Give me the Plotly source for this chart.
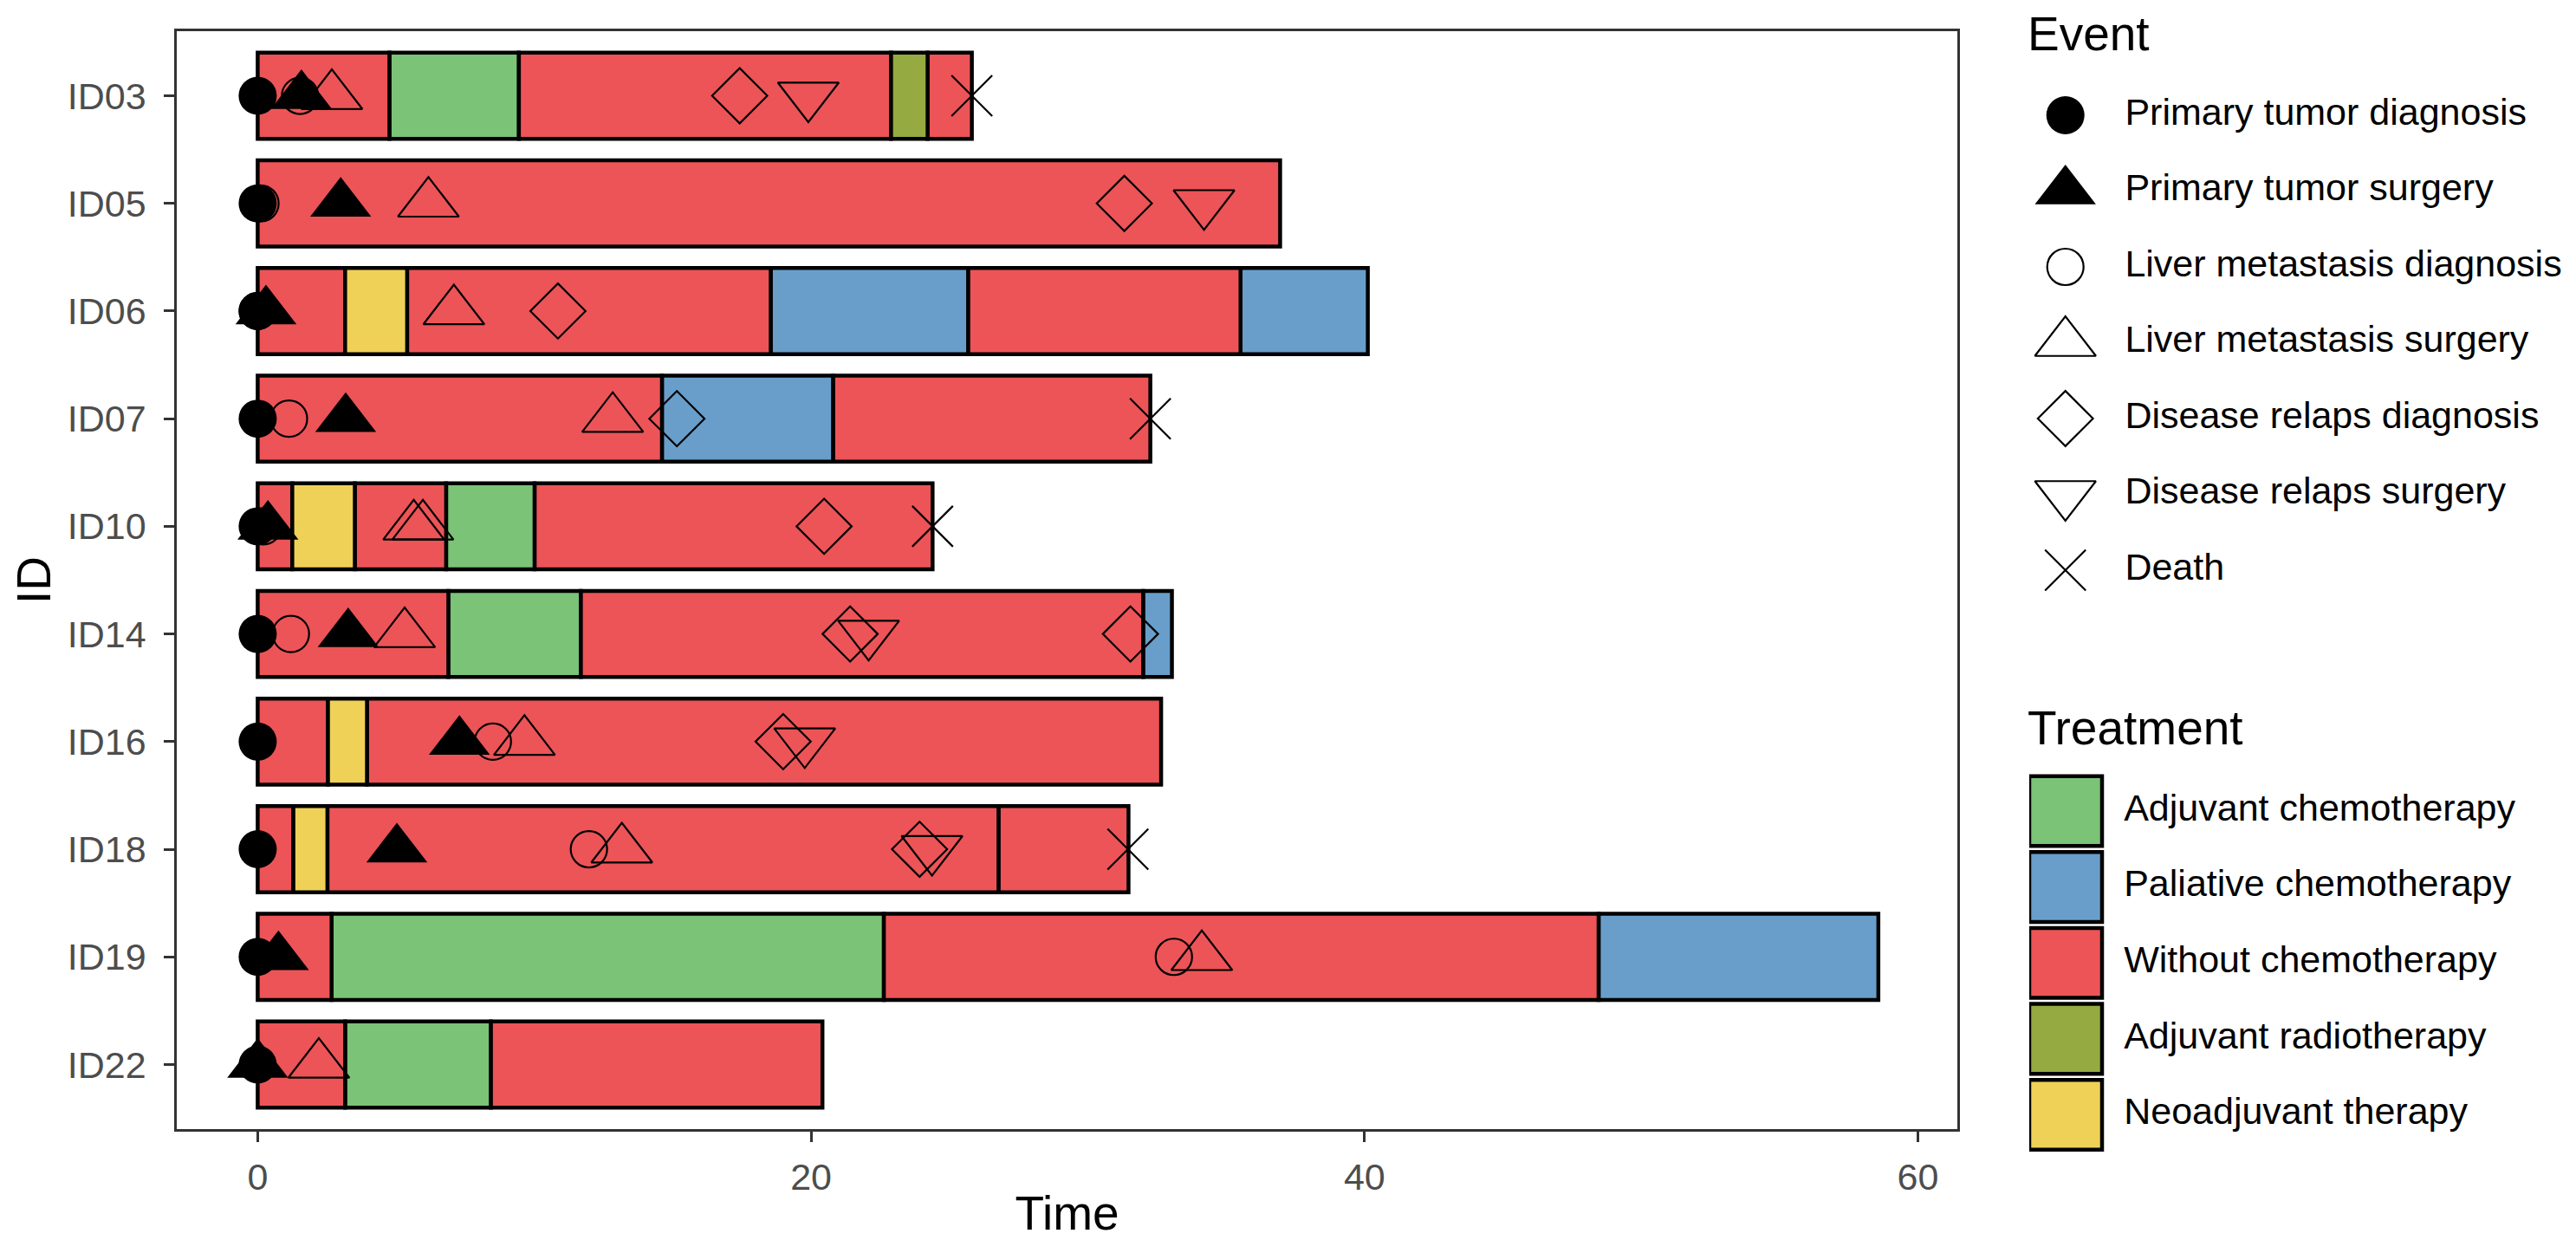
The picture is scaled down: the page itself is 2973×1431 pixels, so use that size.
import plotly.graph_objects as go

# ---------------- data ----------------
ids = ["ID03", "ID05", "ID06", "ID07", "ID10", "ID14", "ID16", "ID18", "ID19", "ID22"]

treatments = ["Adjuvant chemotherapy", "Paliative chemotherapy", "Without chemotherapy",
              "Adjuvant radiotherapy", "Neoadjuvant therapy"]
treatment_colors = ["#7AC377", "#699ECA", "#EC5457", "#95AA41", "#EFD157"]

events = ["Primary tumor diagnosis", "Primary tumor surgery", "Liver metastasis diagnosis",
          "Liver metastasis surgery", "Disease relaps diagnosis", "Disease relaps surgery", "Death"]

# treatment segments (one row per segment)
seg_id = ["ID03", "ID03", "ID03", "ID03", "ID03",
          "ID05",
          "ID06", "ID06", "ID06", "ID06", "ID06", "ID06",
          "ID07", "ID07", "ID07",
          "ID10", "ID10", "ID10", "ID10", "ID10",
          "ID14", "ID14", "ID14", "ID14",
          "ID16", "ID16", "ID16",
          "ID18", "ID18", "ID18", "ID18",
          "ID19", "ID19", "ID19", "ID19",
          "ID22", "ID22", "ID22"]
seg_start = [0, 4.76, 9.44, 22.89, 24.21,
             0,
             0, 3.16, 5.40, 18.54, 25.68, 35.52,
             0, 14.61, 20.80,
             0, 1.25, 3.51, 6.81, 10.01,
             0, 6.89, 11.68, 32.00,
             0, 2.54, 3.95,
             0, 1.29, 2.52, 26.78,
             0, 2.67, 22.63, 48.46,
             0, 3.16, 8.43]
seg_end = [4.76, 9.44, 22.89, 24.21, 25.81,
           36.95,
           3.16, 5.40, 18.54, 25.68, 35.52, 40.12,
           14.61, 20.80, 32.26,
           1.25, 3.51, 6.81, 10.01, 24.39,
           6.89, 11.68, 32.00, 33.04,
           2.54, 3.95, 32.65,
           1.29, 2.52, 26.78, 31.47,
           2.67, 22.63, 48.46, 58.57,
           3.16, 8.43, 20.41]
seg_treatment = ["Without chemotherapy", "Adjuvant chemotherapy", "Without chemotherapy",
                 "Adjuvant radiotherapy", "Without chemotherapy",
                 "Without chemotherapy",
                 "Without chemotherapy", "Neoadjuvant therapy", "Without chemotherapy",
                 "Paliative chemotherapy", "Without chemotherapy", "Paliative chemotherapy",
                 "Without chemotherapy", "Paliative chemotherapy", "Without chemotherapy",
                 "Without chemotherapy", "Neoadjuvant therapy", "Without chemotherapy",
                 "Adjuvant chemotherapy", "Without chemotherapy",
                 "Without chemotherapy", "Adjuvant chemotherapy", "Without chemotherapy",
                 "Paliative chemotherapy",
                 "Without chemotherapy", "Neoadjuvant therapy", "Without chemotherapy",
                 "Without chemotherapy", "Neoadjuvant therapy", "Without chemotherapy",
                 "Without chemotherapy",
                 "Without chemotherapy", "Adjuvant chemotherapy", "Without chemotherapy",
                 "Paliative chemotherapy",
                 "Without chemotherapy", "Adjuvant chemotherapy", "Without chemotherapy"]

# events (one row per event)
PTD, PTS, LMD, LMS, DRD, DRS, DEATH = events
ev_id = ["ID03"] * 7 + ["ID05"] * 6 + ["ID06"] * 5 + ["ID07"] * 6 + ["ID10"] * 7 + \
        ["ID14"] * 7 + ["ID16"] * 6 + ["ID18"] * 7 + ["ID19"] * 4 + ["ID22"] * 3
ev_time = [0, 1.53, 1.58, 2.68, 17.42, 19.90, 25.81,
           0, 0.10, 3.00, 6.17, 31.32, 34.20,
           0, 0.00, 0.30, 7.09, 10.85,
           0, 1.13, 3.18, 12.83, 15.15, 32.26,
           0, 0.20, 0.37, 5.64, 5.97, 20.47, 24.39,
           0, 1.20, 3.27, 5.31, 21.41, 22.08, 31.54,
           0, 7.29, 8.50, 9.64, 18.99, 19.77,
           0, 5.03, 11.97, 13.16, 23.92, 24.37, 31.45,
           0, 0.75, 33.11, 34.12,
           0, 0.00, 2.21]
ev_type = [PTD, LMD, PTS, LMS, DRD, DRS, DEATH,
           PTD, LMD, PTS, LMS, DRD, DRS,
           PTD, LMD, PTS, LMS, DRD,
           PTD, LMD, PTS, LMS, DRD, DEATH,
           PTD, LMD, PTS, LMS, LMS, DRD, DEATH,
           PTD, LMD, PTS, LMS, DRD, DRS, DRD,
           PTD, PTS, LMD, LMS, DRD, DRS,
           PTD, PTS, LMD, LMS, DRD, DRS, DEATH,
           PTD, PTS, LMD, LMS,
           PTD, PTS, LMS]

x_tickvals = [0, 20, 40, 60]

# ---------------- styles ----------------
FONT = "Liberation Sans, Arial, sans-serif"
W, H = 2973, 1431
event_styles = {
    PTD: dict(symbol="circle", size=44, color="black", line=dict(width=0, color="black")),
    PTS: dict(symbol="triangle-up", size=61, color="black", line=dict(width=0, color="black")),
    LMD: dict(symbol="circle-open", size=42, color="black", line=dict(width=2.2, color="black")),
    LMS: dict(symbol="triangle-up-open", size=61, color="black", line=dict(width=2.2, color="black")),
    DRD: dict(symbol="diamond-open", size=49, color="black", line=dict(width=2.2, color="black")),
    DRS: dict(symbol="triangle-down-open", size=61, color="black", line=dict(width=2.2, color="black")),
    DEATH: dict(symbol="x-thin-open", size=47, color="black", line=dict(width=2.2, color="black")),
}

fig = go.Figure()

# treatment bars
for tname, tcol in zip(treatments, treatment_colors):
    idx = [i for i, s in enumerate(seg_treatment) if s == tname]
    if not idx:
        continue
    fig.add_trace(go.Bar(
        orientation="h",
        y=[seg_id[i] for i in idx],
        base=[seg_start[i] for i in idx],
        x=[seg_end[i] - seg_start[i] for i in idx],
        width=0.8,
        marker=dict(color=tcol, line=dict(color="black", width=4.5)),
        showlegend=False, xaxis="x", yaxis="y", name=tname,
    ))

# event markers
for ename in events:
    idx = [i for i, e in enumerate(ev_type) if e == ename]
    fig.add_trace(go.Scatter(
        x=[ev_time[i] for i in idx],
        y=[ev_id[i] for i in idx],
        mode="markers",
        marker=event_styles[ename],
        showlegend=False, xaxis="x", yaxis="y", name=ename, cliponaxis=False,
    ))

# ---------------- custom legends (drawn as small subplots) ----------------
for ename in events:
    fig.add_trace(go.Scatter(
        x=[0], y=[ename], mode="markers", marker=event_styles[ename],
        showlegend=False, xaxis="x2", yaxis="y2", hoverinfo="skip", cliponaxis=False,
    ))
fig.add_trace(go.Scatter(
    x=[0.93] * len(events), y=events, mode="text", text=events,
    textposition="middle right",
    textfont=dict(size=43, color="black", family=FONT),
    showlegend=False, xaxis="x2", yaxis="y2", hoverinfo="skip", cliponaxis=False,
))

fig.add_trace(go.Bar(
    orientation="h", y=treatments, x=[1] * len(treatments), base=0, width=0.92,
    marker=dict(color=treatment_colors, line=dict(color="black", width=4.5)),
    showlegend=False, xaxis="x3", yaxis="y3", hoverinfo="skip",
))
fig.add_trace(go.Scatter(
    x=[1.30] * len(treatments), y=treatments, mode="text", text=treatments,
    textposition="middle right",
    textfont=dict(size=43, color="black", family=FONT),
    showlegend=False, xaxis="x3", yaxis="y3", hoverinfo="skip", cliponaxis=False,
))

axis_line = dict(showline=True, linecolor="#333333", linewidth=2.5, mirror=True,
                 showgrid=False, zeroline=False, ticks="outside", ticklen=12,
                 tickwidth=3, tickcolor="#333333",
                 tickfont=dict(size=43, color="#4D4D4D", family=FONT))

fig.update_layout(
    width=W, height=H,
    margin=dict(l=0, r=0, t=0, b=0),
    paper_bgcolor="white", plot_bgcolor="white",
    barmode="overlay",
    font=dict(family=FONT, color="black"),
    xaxis=dict(domain=[196 / W, 2251 / W], range=[-2.925, 61.425], tickvals=x_tickvals,
               anchor="y", ticklabelstandoff=4,
               title=dict(text="Time", font=dict(size=55, color="black", family=FONT), standoff=0),
               **axis_line),
    yaxis=dict(domain=[1 - 1295 / H, 1 - 28 / H], type="category", categoryorder="array",
               categoryarray=ids, range=[9.6, -0.6], anchor="x", ticklabelstandoff=12,
               title=dict(text="ID", font=dict(size=55, color="black", family=FONT), standoff=12),
               **axis_line),
    xaxis2=dict(domain=[2334 / W, 1.0], range=[-0.5646, 8.088], visible=False, anchor="y2"),
    yaxis2=dict(domain=[1 - 693.75 / H, 1 - 81.25 / H], type="category", categoryorder="array",
                categoryarray=events, range=[6.5, -0.5], visible=False, anchor="x2"),
    xaxis3=dict(domain=[2334 / W, 1.0], range=[0, 639 / 84], visible=False, anchor="y3"),
    yaxis3=dict(domain=[1 - 1322.25 / H, 1 - 884.25 / H], type="category", categoryorder="array",
                categoryarray=treatments, range=[4.5, -0.5], visible=False, anchor="x3"),
    annotations=[
        dict(text="Event", x=2330 / W, y=1 - 31 / H, xref="paper", yref="paper",
             xanchor="left", yanchor="middle", showarrow=False,
             font=dict(size=55, color="black", family=FONT)),
        dict(text="Treatment", x=2330 / W, y=1 - 832 / H, xref="paper", yref="paper",
             xanchor="left", yanchor="middle", showarrow=False,
             font=dict(size=55, color="black", family=FONT)),
    ],
)

fig.write_html("out.html")
